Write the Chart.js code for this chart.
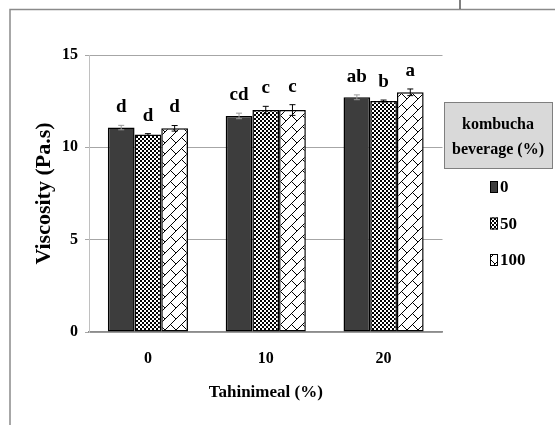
<!DOCTYPE html>
<html>
<head>
<meta charset="utf-8">
<script src="https://cdn.jsdelivr.net/npm/chart.js@4.4.0/dist/chart.umd.min.js"></script>
<style>
html, body { margin: 0; padding: 0; background: #fff; }
#wrap { width: 555px; height: 425px; position: relative; }
</style>
</head>
<body>
<div id="wrap"><canvas id="myChart"></canvas></div>
<script>
// data
const categories = ['0', '10', '20'];
const seriesNames = ['0', '50', '100'];
const kombucha0 = [11.07, 11.70, 12.71];
const kombucha50 = [10.69, 12.02, 12.51];
const kombucha100 = [11.03, 12.02, 12.98];
const err0 = [0.12, 0.15, 0.13];
const err50 = [0.05, 0.20, 0.05];
const err100 = [0.15, 0.29, 0.18];
const letters0 = ['d', 'cd', 'ab'];
const letters50 = ['d', 'c', 'b'];
const letters100 = ['d', 'c', 'a'];
const legendTitle = ['kombucha', 'beverage (%)'];

const serif = '"Liberation Serif", "Times New Roman", serif';
Chart.defaults.font.family = serif;
Chart.defaults.font.weight = 'bold';
Chart.defaults.color = '#000';

function makeTile(w, h, draw) {
  const c = document.createElement('canvas');
  c.width = w;
  c.height = h;
  const x = c.getContext('2d');
  draw(x);
  return x.createPattern(c, 'repeat');
}

const darkFill = '#3d3d3d';
const checker = makeTile(4, 4, x => {
  x.fillStyle = '#fff';
  x.fillRect(0, 0, 4, 4);
  x.fillStyle = '#000';
  x.fillRect(0, 0, 2, 2);
  x.fillRect(2, 2, 2, 2);
});
const brick = makeTile(11, 11, x => {
  x.fillStyle = '#fff';
  x.fillRect(0, 0, 11, 11);
  x.strokeStyle = '#000';
  x.lineWidth = 1;
  x.beginPath();
  x.moveTo(0, 11); x.lineTo(11, 0);
  x.moveTo(5.5, 5.5); x.lineTo(11, 11);
  x.moveTo(-5.5, 5.5); x.lineTo(0, 11);
  x.moveTo(5.5, -5.5); x.lineTo(11, 0);
  x.stroke();
});

const frame = {
  id: 'frame',
  beforeDraw(chart) {
    const ctx = chart.ctx;
    ctx.save();
    ctx.fillStyle = '#fff';
    ctx.fillRect(0, 0, chart.width, chart.height);
    ctx.strokeStyle = '#8a8a8a';
    ctx.lineWidth = 1.5;
    ctx.beginPath();
    ctx.moveTo(10, chart.height);
    ctx.lineTo(10, 9.5);
    ctx.lineTo(chart.width, 9.5);
    ctx.stroke();
    ctx.strokeStyle = '#555';
    ctx.beginPath();
    ctx.moveTo(460, 0);
    ctx.lineTo(460, 9);
    ctx.stroke();
    ctx.restore();
  }
};

const errorBars = {
  id: 'errorBars',
  afterDatasetsDraw(chart) {
    const ctx = chart.ctx;
    const y = chart.scales.y;
    chart.data.datasets.forEach((ds, di) => {
      const meta = chart.getDatasetMeta(di);
      meta.data.forEach((bar, i) => {
        const v = ds.data[i];
        const e = ds.errors[i];
        const yt = y.getPixelForValue(v + e);
        const yb = y.getPixelForValue(v - e);
        ctx.save();
        ctx.strokeStyle = di === 0 ? '#9a9a9a' : '#000';
        ctx.lineWidth = 1;
        ctx.beginPath();
        ctx.moveTo(bar.x, yt); ctx.lineTo(bar.x, yb);
        ctx.moveTo(bar.x - 3, yt); ctx.lineTo(bar.x + 3, yt);
        ctx.moveTo(bar.x - 3, yb); ctx.lineTo(bar.x + 3, yb);
        ctx.stroke();
        ctx.fillStyle = '#000';
        ctx.font = 'bold 19px ' + serif;
        ctx.textAlign = 'center';
        ctx.textBaseline = 'middle';
        ctx.fillText(ds.letters[i], bar.x, yt - 18);
        ctx.restore();
      });
    });
  }
};

const legendBox = {
  id: 'legendBox',
  afterDraw(chart) {
    const ctx = chart.ctx;
    ctx.save();
    ctx.fillStyle = '#d9d9d9';
    ctx.fillRect(444, 102, 109, 66);
    ctx.strokeStyle = '#7f7f7f';
    ctx.lineWidth = 1;
    ctx.strokeRect(444.5, 102.5, 108, 66);
    ctx.fillStyle = '#000';
    ctx.font = 'bold 16px ' + serif;
    ctx.textAlign = 'center';
    ctx.textBaseline = 'middle';
    legendTitle.forEach((t, i) => ctx.fillText(t, 498, 125 + i * 25));
    ctx.font = 'bold 17px ' + serif;
    ctx.textAlign = 'left';
    chart.data.datasets.forEach((ds, i) => {
      const cy = 187 + i * 36.5;
      ctx.fillStyle = ds.backgroundColor;
      ctx.fillRect(490, cy - 6, 8, 12);
      ctx.strokeStyle = '#000';
      ctx.lineWidth = 1;
      ctx.strokeRect(490.5, cy - 5.5, 7, 11);
      ctx.fillStyle = '#000';
      ctx.fillText(ds.label, 500, cy + 1);
    });
    ctx.restore();
  }
};

const data = {
  labels: categories,
  datasets: [
    { label: seriesNames[0], data: kombucha0, errors: err0, letters: letters0, backgroundColor: darkFill },
    { label: seriesNames[1], data: kombucha50, errors: err50, letters: letters50, backgroundColor: checker },
    { label: seriesNames[2], data: kombucha100, errors: err100, letters: letters100, backgroundColor: brick }
  ]
};

const config = {
  type: 'bar',
  data,
  options: {
    responsive: true,
    maintainAspectRatio: false,
    animation: false,
    layout: { padding: { top: 55, right: 112.5, left: 0, bottom: 0 } },
    datasets: {
      bar: {
        borderColor: '#000',
        borderWidth: 1.5,
        borderSkipped: false,
        barPercentage: 1,
        categoryPercentage: 0.68
      }
    },
    plugins: {
      legend: { display: false },
      tooltip: { enabled: false }
    },
    scales: {
      x: {
        grid: { display: false, drawTicks: false },
        border: { color: '#8c8c8c', width: 1.5 },
        ticks: { padding: 17, font: { size: 16, weight: 'bold' } },
        title: {
          display: true,
          text: 'Tahinimeal (%)',
          font: { size: 17, weight: 'bold' },
          padding: { top: 0, bottom: 22 }
        },
        afterFit(scale) { scale.height = 93; }
      },
      y: {
        min: 0,
        max: 15,
        ticks: { stepSize: 5, padding: 7, font: { size: 16, weight: 'bold' } },
        grid: { color: '#a6a6a6', tickLength: 4 },
        border: { color: '#c0c0c0' },
        title: {
          display: true,
          text: 'Viscosity (Pa.s)',
          font: { size: 22, weight: 'bold' },
          padding: { top: 31, bottom: 0 }
        },
        afterFit(scale) { scale.width = 89; }
      }
    }
  },
  plugins: [frame, errorBars, legendBox]
};

const chart = new Chart(document.getElementById('myChart'), config);
</script>
</body>
</html>
